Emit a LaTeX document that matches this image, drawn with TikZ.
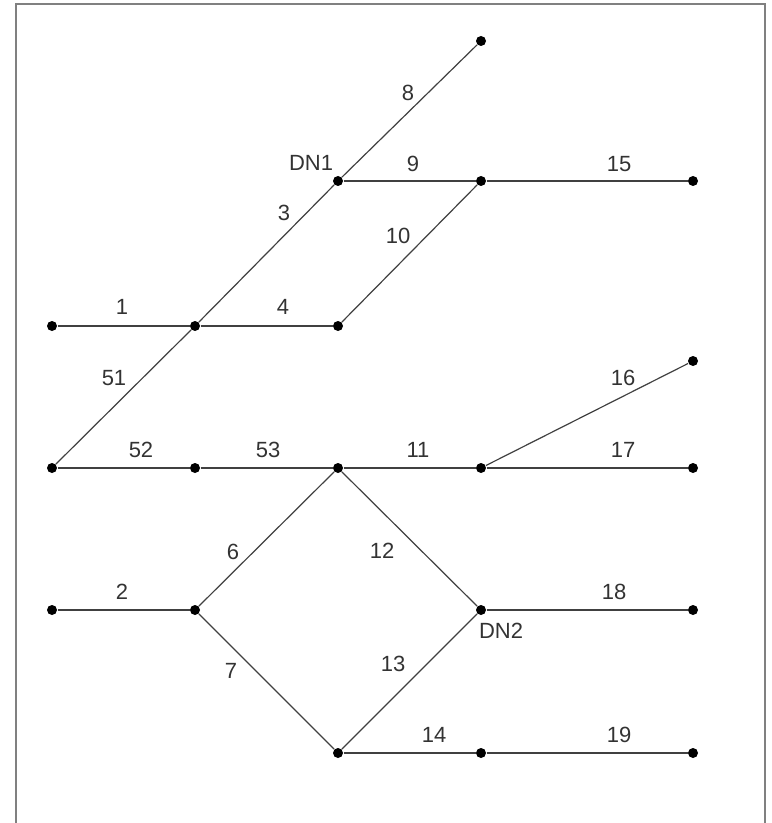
\documentclass[tikz,border=0pt]{standalone}
\usepackage{fontspec}
\setmainfont{Liberation Sans}
\usepackage{tikz}
\tikzset{every picture/.style={line width=0.75pt}}
\tikzset{
  dot/.style={circle,fill=black,inner sep=0pt,minimum size=7.5pt},
  seg/.style={draw=black!75,line width=0.9pt},
  lbl/.style={inner sep=0.75pt,text=black!80,font=\fontsize{16.5}{18}\selectfont},
  frame/.style={draw=black!50,line width=1.6pt}
}

\begin{document}
\begin{tikzpicture}[x=0.75pt,y=0.75pt,yscale=-1,xscale=1]
\useasboundingbox (0,0) rectangle (771,823);
\draw[frame] (16,830) -- (16,4) -- (765,4) -- (765,830) ;
% junctions and end points
\node[dot] (top)  at (481,41)  {};
\node[dot] (dn1)  at (338,181) {};
\node[dot] (p9)   at (481,181) {};
\node[dot] (p15)  at (693,181) {};
\node[dot] (p1w)  at (52,326)  {};
\node[dot] (p1e)  at (195,326) {};
\node[dot] (p4)   at (338,326) {};
\node[dot] (p16)  at (693,361) {};
\node[dot] (p52w) at (52,468)  {};
\node[dot] (p52e) at (195,468) {};
\node[dot] (p53)  at (338,468) {};
\node[dot] (p11)  at (481,468) {};
\node[dot] (p17)  at (693,468) {};
\node[dot] (p2w)  at (52,610)  {};
\node[dot] (p2e)  at (195,610) {};
\node[dot] (dn2)  at (481,610) {};
\node[dot] (p18)  at (693,610) {};
\node[dot] (p7)   at (338,753) {};
\node[dot] (p14)  at (481,753) {};
\node[dot] (p19)  at (693,753) {};
% lines
\draw[seg] (p1w) -- (p1e) ;
\draw[seg] (p52w) -- (p1e) ;
\draw[seg] (p1e) -- (dn1) ;
\draw[seg] (dn1) -- (top) ;
\draw[seg] (dn1) -- (p9) ;
\draw[seg] (p9) -- (p15) ;
\draw[seg] (p1e) -- (p4) ;
\draw[seg] (p4) -- (p9) ;
\draw[seg] (p52w) -- (p52e) ;
\draw[seg] (p52e) -- (p53) ;
\draw[seg] (p53) -- (p11) ;
\draw[seg] (p11) -- (p16) ;
\draw[seg] (p11) -- (p17) ;
\draw[seg] (p53) -- (p2e) ;
\draw[seg] (p53) -- (dn2) ;
\draw[seg] (p2w) -- (p2e) ;
\draw[seg] (dn2) -- (p18) ;
\draw[seg] (p2e) -- (p7) ;
\draw[seg] (p7) -- (dn2) ;
\draw[seg] (p7) -- (p14) ;
\draw[seg] (p14) -- (p19) ;
% labels
\node[lbl] (ldn1) at (311,163) {DN1};
\node[lbl] (ldn2) at (501,631) {DN2};
\node[lbl] (l8)  at (408,93)  {8};
\node[lbl] (l9)  at (413,164) {9};
\node[lbl] (l15) at (619,164) {15};
\node[lbl] (l3)  at (284,213) {3};
\node[lbl] (l10) at (398,236) {10};
\node[lbl] (l1)  at (122,307) {1};
\node[lbl] (l4)  at (283,307) {4};
\node[lbl] (l51) at (114,378) {51};
\node[lbl] (l16) at (623,378) {16};
\node[lbl] (l52) at (141,450) {52};
\node[lbl] (l53) at (268,450) {53};
\node[lbl] (l11) at (418,450) {11};
\node[lbl] (l17) at (623,450) {17};
\node[lbl] (l6)  at (233,552) {6};
\node[lbl] (l12) at (382,551) {12};
\node[lbl] (l2)  at (122,592) {2};
\node[lbl] (l18) at (614,592) {18};
\node[lbl] (l7)  at (231,671) {7};
\node[lbl] (l13) at (393,664) {13};
\node[lbl] (l14) at (434,735) {14};
\node[lbl] (l19) at (619,735) {19};
\end{tikzpicture}
\end{document}
